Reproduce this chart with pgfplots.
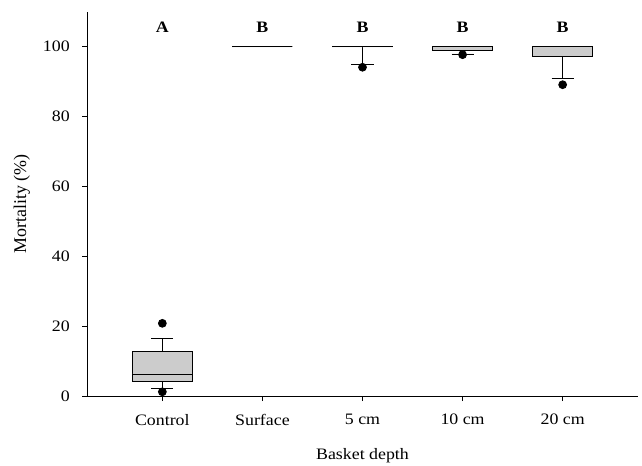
\documentclass[border=0pt]{standalone}
\usepackage{fontspec}
\setmainfont{Liberation Serif}
\usepackage{pgfplots}
\pgfplotsset{compat=1.18}
\usepgfplotslibrary{statistics}
\definecolor{boxgray}{RGB}{204,204,204}
\tikzset{letter/.style={font=\fontsize{16}{18}\selectfont\bfseries, xscale=1.12, anchor=center}}

\begin{document}
\begin{tikzpicture}
% page = 642 x 466 px, 1 px = 1 bp; axis box lower-left at (87.3, 396) px
\useasboundingbox (-87.3bp,-70bp) rectangle (554.7bp,396bp);
\begin{axis}[
    scale only axis,
    width=550.4bp, height=384.3bp,
    xmin=-0.75, xmax=4.75,
    ymin=0, ymax=110,
    axis lines*=left,
    axis line style={line width=0.9pt},
    tick style={line width=0.9pt, black},
    tick align=outside,
    major tick length=5bp,
    xtick={0,1,2,3,4},
    xticklabels={Control,Surface,5 cm,10 cm,20 cm},
    ytick={0,20,40,60,80,100},
    /pgf/number format/assume math mode=true,
    xticklabel style={font=\fontsize{16}{18}\selectfont, xscale=1.12, inner sep=0pt, anchor=north, yshift=-13bp},
    yticklabel style={font=\fontsize{16}{18}\selectfont, xscale=1.12, inner sep=0pt, anchor=east, xshift=-11bp},
    xlabel={Basket depth},
    ylabel={Mortality (\%)},
    xlabel style={font=\fontsize{16}{18}\selectfont, xscale=1.12, at={(axis description cs:0.5,-0.155)}, anchor=center},
    ylabel style={font=\fontsize{18}{20}\selectfont, at={(axis description cs:-0.119,0.5)}, anchor=center},
    boxplot/draw direction=y,
    clip=false,
]
% Control
\addplot[black, line width=0.9pt, fill=boxgray, mark=*, mark size=3.9bp, mark options={fill=black},
  boxplot prepared={lower whisker=2.2, lower quartile=4.1, median=6.3,
    upper quartile=12.7, upper whisker=16.5, draw position=0,
    box extend=0.6, whisker extend=0.22}]
  coordinates {(0,20.8) (0,1.2)};
% Surface
\addplot[black, line width=0.9pt, fill=boxgray, mark=*, mark size=3.9bp, mark options={fill=black},
  boxplot prepared={lower whisker=100, lower quartile=100, median=100,
    upper quartile=100, upper whisker=100, draw position=1,
    box extend=0.6, whisker extend=0.22}]
  coordinates {};
% 5 cm
\addplot[black, line width=0.9pt, fill=boxgray, mark=*, mark size=3.9bp, mark options={fill=black},
  boxplot prepared={lower whisker=94.9, lower quartile=100, median=100,
    upper quartile=100, upper whisker=100, draw position=2,
    box extend=0.6, whisker extend=0.22}]
  coordinates {(2,94.1)};
% 10 cm
\addplot[black, line width=0.9pt, fill=boxgray, mark=*, mark size=3.9bp, mark options={fill=black},
  boxplot prepared={lower whisker=97.9, lower quartile=99.0, median=100,
    upper quartile=100, upper whisker=100, draw position=3,
    box extend=0.6, whisker extend=0.22}]
  coordinates {(3,97.7)};
% 20 cm
\addplot[black, line width=0.9pt, fill=boxgray, mark=*, mark size=3.9bp, mark options={fill=black},
  boxplot prepared={lower whisker=91.0, lower quartile=97.2, median=100,
    upper quartile=100, upper whisker=100, draw position=4,
    box extend=0.6, whisker extend=0.22}]
  coordinates {(4,89.1)};

% significance letters
\node[letter] at (axis cs:0,105.5) {A};
\node[letter] at (axis cs:1,105.5) {B};
\node[letter] at (axis cs:2,105.5) {B};
\node[letter] at (axis cs:3,105.5) {B};
\node[letter] at (axis cs:4,105.5) {B};
\end{axis}
\end{tikzpicture}
\end{document}
